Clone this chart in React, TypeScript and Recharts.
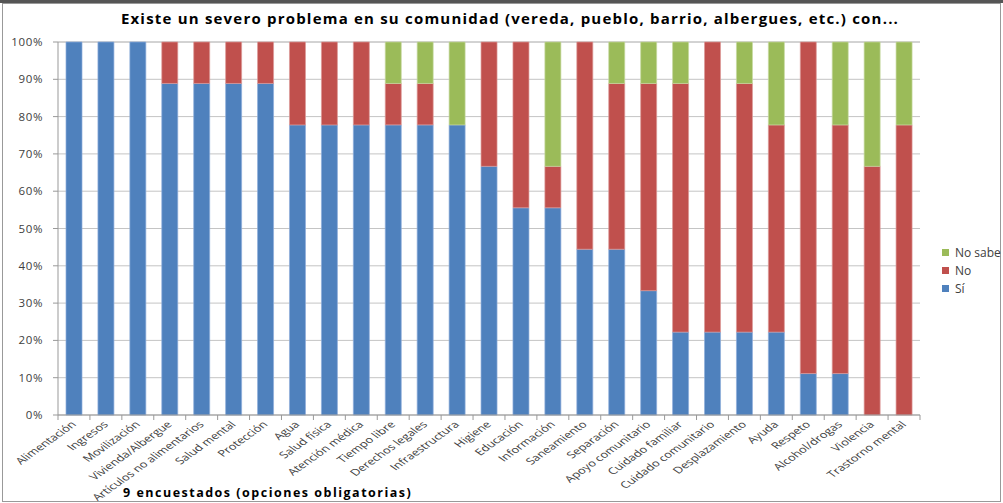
import React from 'react';
import { BarChart, Bar, XAxis, YAxis, CartesianGrid } from 'recharts';

const categories = [
  'Alimentación', 'Ingresos', 'Movilización', 'Vivienda/Albergue', 'Artículos no alimentarios',
  'Salud mental', 'Protección', 'Agua', 'Salud física', 'Atención médica', 'Tiempo libre',
  'Derechos legales', 'Infraestructura', 'Higiene', 'Educación', 'Información', 'Saneamiento',
  'Separación', 'Apoyo comunitario', 'Cuidado familiar', 'Cuidado comunitario', 'Desplazamiento',
  'Ayuda', 'Respeto', 'Alcohol/drogas', 'Violencia', 'Trastorno mental',
];
// counts out of 9 respondents
const respondents = 9;
const si = [9, 9, 9, 8, 8, 8, 8, 7, 7, 7, 7, 7, 7, 6, 5, 5, 4, 4, 3, 2, 2, 2, 2, 1, 1, 0, 0];
const no = [0, 0, 0, 1, 1, 1, 1, 2, 2, 2, 1, 1, 0, 3, 4, 1, 5, 4, 5, 6, 7, 6, 5, 8, 6, 6, 7];
const noSabe = [0, 0, 0, 0, 0, 0, 0, 0, 0, 0, 1, 1, 2, 0, 0, 3, 0, 1, 1, 1, 0, 1, 2, 0, 2, 3, 2];
const yTicks = [0, 10, 20, 30, 40, 50, 60, 70, 80, 90, 100];

const data = categories.map((c, i) => ({
  name: c,
  si: (si[i] / respondents) * 100,
  no: (no[i] / respondents) * 100,
  noSabe: (noSabe[i] / respondents) * 100,
}));

const BLUE = '#4F81BD';
const RED = '#C0504D';
const GREEN = '#9BBB59';
const FONT = '"Open Sans", sans-serif';

const legendItems = [
  { label: 'No sabe', color: GREEN },
  { label: 'No', color: RED },
  { label: 'Sí', color: BLUE },
];

const W = 1003;
const H = 503;
const M_TOP = 42;
const M_RIGHT = 83;
const Y_W = 58;
const X_H = 88;
const AXIS_Y = H - X_H;
const CAT_W = (W - M_RIGHT - Y_W) / categories.length;

const XTick = (props: any) => {
  const { x, payload, index } = props;
  return (
    <g>
      <line x1={x + CAT_W / 2} x2={x + CAT_W / 2} y1={AXIS_Y} y2={AXIS_Y + 5} stroke="#999" />
      {index === 0 && <line x1={x - CAT_W / 2} x2={x - CAT_W / 2} y1={AXIS_Y} y2={AXIS_Y + 5} stroke="#999" />}
      <text
        transform={`translate(${x + 3},${AXIS_Y + 10}) scale(1.4,1) rotate(-45)`}
        textAnchor="end"
        fontSize={9.3}
        fill="#404040"
        fontFamily={FONT}
      >
        {payload.value}
      </text>
    </g>
  );
};

export default function App() {
  return (
    <div style={{ position: 'absolute', left: 0, top: 0, width: W, height: H, background: '#fff', overflow: 'hidden' }}>
      <div style={{ position: 'absolute', left: 0, top: 0, width: W, height: 3, background: '#555' }} />
      <div style={{ position: 'absolute', left: 2, top: 3, width: 999, height: 499, border: '1px solid #999', boxSizing: 'border-box' }} />
      <div style={{ position: 'absolute', left: 0, top: 8, width: 1020, textAlign: 'center', fontFamily: FONT, fontWeight: 'bold', fontSize: 15, letterSpacing: 1.2, color: '#000' }}>
        Existe un severo problema en su comunidad (vereda, pueblo, barrio, albergues, etc.) con...
      </div>
      <BarChart
        width={W}
        height={H}
        data={data}
        barSize={16}
        margin={{ top: M_TOP, right: M_RIGHT, bottom: 0, left: 0 }}
      >
        <CartesianGrid vertical={false} stroke="#c4c4c4" />
        <XAxis
          dataKey="name"
          interval={0}
          height={X_H}
          tick={<XTick />}
          tickLine={false}
          axisLine={{ stroke: '#999' }}
        />
        <YAxis
          width={Y_W}
          ticks={yTicks}
          domain={[0, 100]}
          tickFormatter={(v: number) => `${Math.round(v)}%`}
          tick={{ fontSize: 11.5, fill: '#404040', fontFamily: FONT, letterSpacing: 0.6 }}
          tickLine={{ stroke: '#999' }}
          tickSize={5}
          tickMargin={10}
          axisLine={{ stroke: '#999' }}
          interval={0}
        />
        <Bar dataKey="si" stackId="a" fill={BLUE} stroke="#8eaedb" strokeWidth={0.7} isAnimationActive={false} />
        <Bar dataKey="no" stackId="a" fill={RED} stroke="#dc9a98" strokeWidth={0.7} isAnimationActive={false} />
        <Bar dataKey="noSabe" stackId="a" fill={GREEN} stroke="#c5d89f" strokeWidth={0.7} isAnimationActive={false} />
      </BarChart>
      <div style={{ position: 'absolute', left: 942, top: 243, width: 80, fontFamily: FONT, fontSize: 12, color: '#404040' }}>
        {legendItems.map((it) => (
          <div key={it.label} style={{ display: 'flex', alignItems: 'center', height: 18, whiteSpace: 'nowrap' }}>
            <span style={{ width: 7, height: 7, background: it.color, display: 'inline-block', marginRight: 6 }} />
            {it.label}
          </div>
        ))}
      </div>
      <div style={{ position: 'absolute', left: 123, top: 484, fontFamily: FONT, fontWeight: 'bold', fontSize: 12.5, color: '#000', letterSpacing: 1.5 }}>
        9 encuestados (opciones obligatorias)
      </div>
    </div>
  );
}
